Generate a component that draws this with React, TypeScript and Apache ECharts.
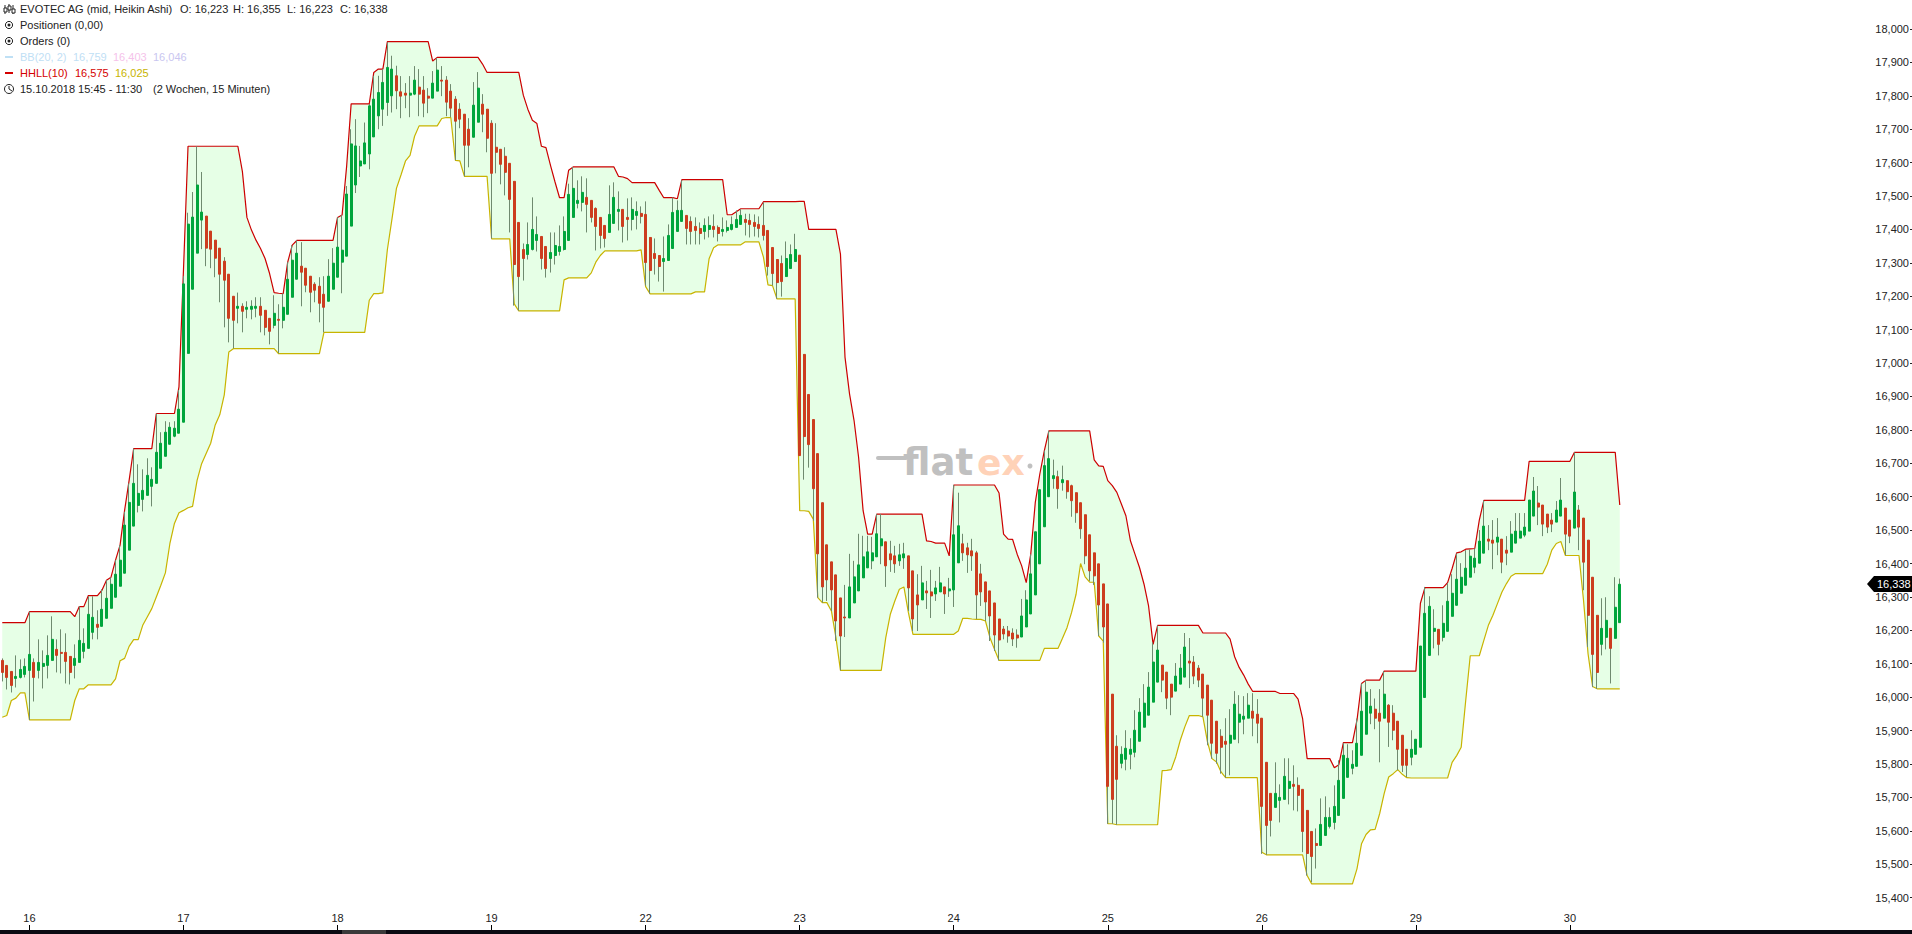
import React, { useEffect, useRef } from "react";
import * as echarts from "echarts";

// Heikin Ashi bars in thousandths of a euro: [open, close, low, high]
const day15 = [[16110,16074,16047,16116],[16095,16059,16023,16095],[16077,16035,16014,16077],[16056,16062,16029,16125],[16059,16083,16056,16113],[16068,16092,16059,16116]];
const day16 = [[16080,16128,15932,16256],[16104,16059,15987,16116],[16080,16104,16056,16173],[16092,16101,16026,16140],[16095,16125,16056,16185],[16110,16173,16110,16242],[16143,16125,16074,16173],[16134,16131,16071,16203],[16134,16107,16041,16191],[16122,16074,16038,16122],[16095,16116,16056,16158],[16104,16170,16104,16272],[16137,16161,16116,16206],[16146,16248,16146,16302],[16194,16239,16173,16302],[16218,16209,16173,16260],[16212,16263,16212,16323],[16236,16296,16236,16350],[16266,16338,16266,16359],[16299,16368,16299,16410],[16332,16410,16332,16455],[16371,16515,16371,16555],[16440,16583,16440,16640],[16512,16640,16512,16744],[16574,16610,16553,16697],[16592,16619,16556,16682],[16604,16664,16604,16715],[16631,16652,16571,16688],[16640,16733,16640,16849],[16685,16760,16685,16793],[16721,16793,16721,16826],[16757,16808,16757,16823],[16781,16805,16778,16826],[16790,16862,16790,16919]];
const day17 = [[16823,17237,16823,17260],[17029,17416,17029,17450],[17221,17437,17221,17512],[17329,17533,17329,17649],[17428,17452,17341,17572],[17440,17344,17290,17440],[17395,17341,17284,17395],[17368,17314,17257,17368],[17344,17266,17182,17344],[17305,17248,17107,17317],[17266,17134,17062,17266],[17200,17128,17044,17200],[17164,17170,17119,17211],[17170,17155,17092,17179],[17161,17167,17134,17185],[17161,17170,17131,17188],[17164,17170,17137,17197],[17170,17143,17092,17197],[17158,17107,17083,17158],[17134,17095,17056,17134],[17113,17149,17104,17203],[17131,17128,17029,17176],[17128,17167,17104,17209],[17146,17251,17146,17302],[17197,17308,17197,17353],[17251,17329,17251,17368],[17290,17272,17170,17362],[17284,17233,17212,17284],[17260,17212,17152,17260],[17236,17218,17182,17242],[17230,17179,17122,17257],[17206,17167,17092,17260],[17185,17260,17185,17311],[17221,17299,17221,17344]];
const day18 = [[17257,17347,17257,17437],[17302,17338,17209,17443],[17320,17506,17320,17530],[17410,17656,17410,17700],[17533,17650,17509,17730],[17590,17605,17557,17650],[17596,17659,17596,17720],[17626,17770,17580,17776],[17677,17790,17677,17860],[17740,17810,17700,17860],[17760,17840,17710,17880],[17780,17885,17740,17960],[17800,17880,17750,17920],[17860,17815,17760,17890],[17812,17799,17733,17859],[17808,17802,17763,17838],[17802,17808,17736,17859],[17805,17847,17802,17889],[17826,17805,17739,17880],[17817,17778,17736,17859],[17799,17793,17748,17823],[17793,17838,17793,17874],[17814,17877,17814,17913],[17847,17844,17799,17889],[17847,17781,17739,17859],[17814,17763,17736,17835],[17790,17724,17607,17799],[17760,17730,17703,17778],[17745,17652,17559,17745],[17700,17652,17586,17733],[17676,17772,17676,17841],[17721,17823,17721,17871],[17775,17745,17691,17805],[17760,17673,17631,17760]];
const day19 = [[17718,17568,17373,17727],[17646,17631,17568,17718],[17640,17595,17535,17640],[17619,17571,17502,17646],[17598,17490,17391,17598],[17544,17295,17172,17544],[17421,17259,17157,17421],[17340,17313,17247,17358],[17325,17355,17310,17421],[17340,17400,17337,17496],[17367,17385,17334,17439],[17379,17313,17280,17379],[17349,17283,17256,17349],[17313,17331,17271,17391],[17322,17352,17295,17391],[17334,17349,17322,17412],[17340,17394,17337,17439],[17367,17505,17367,17537],[17436,17523,17436,17587],[17478,17487,17463,17547],[17481,17511,17454,17559],[17496,17475,17391,17553],[17487,17436,17421,17487],[17463,17409,17337,17466],[17436,17382,17343,17436],[17412,17373,17346,17412],[17391,17445,17391,17532],[17418,17496,17418,17541],[17454,17460,17397,17514],[17460,17409,17361,17460],[17436,17430,17367,17493],[17430,17460,17397,17496],[17442,17454,17400,17484],[17448,17439,17418,17469]];
const day22 = [[17445,17301,17232,17484],[17376,17277,17208,17376],[17328,17313,17265,17373],[17322,17289,17244,17322],[17304,17313,17214,17379],[17307,17382,17307,17415],[17343,17451,17343,17496],[17394,17457,17394,17487],[17424,17457,17424,17547],[17442,17403,17355,17442],[17424,17394,17355,17439],[17409,17397,17355,17436],[17403,17388,17355,17421],[17394,17412,17370,17433],[17400,17412,17376,17439],[17409,17400,17376,17445],[17406,17388,17364,17412],[17394,17400,17379,17436],[17397,17406,17391,17427],[17400,17415,17397,17439],[17406,17430,17406,17457],[17415,17442,17415,17460],[17430,17421,17382,17447],[17427,17415,17376,17447],[17421,17409,17379,17445],[17415,17403,17376,17439],[17412,17382,17367,17481],[17397,17289,17262,17397],[17346,17268,17232,17346],[17310,17241,17193,17310],[17298,17244,17199,17322],[17259,17313,17259,17364],[17283,17325,17283,17355],[17304,17340,17304,17387]];
const day23 = [[17323,16723,16723,17323],[17026,16780,16651,17026],[16906,16756,16687,16906],[16831,16624,16528,16831],[16729,16429,16298,16729],[16582,16330,16283,16582],[16456,16351,16288,16456],[16405,16321,16258,16405],[16366,16228,16168,16366],[16297,16183,16080,16297],[16240,16237,16180,16336],[16237,16330,16237,16429],[16282,16360,16282,16408],[16318,16396,16318,16489],[16357,16420,16357,16483],[16387,16435,16387,16483],[16408,16432,16383,16480],[16420,16489,16420,16548],[16453,16474,16398,16548],[16465,16393,16330,16465],[16429,16411,16375,16468],[16423,16399,16372,16453],[16408,16426,16393,16459],[16417,16429,16384,16462],[16423,16327,16258,16423],[16378,16234,16198,16378],[16306,16276,16198,16368],[16291,16342,16291,16393],[16318,16312,16264,16348],[16315,16303,16237,16381],[16309,16327,16288,16348],[16315,16342,16315,16390],[16330,16309,16249,16330],[16318,16324,16300,16357]];
const day24 = [[16321,16486,16270,16635],[16402,16513,16402,16612],[16459,16432,16408,16489],[16447,16426,16372,16462],[16438,16423,16378,16474],[16432,16306,16234,16438],[16369,16315,16273,16399],[16345,16285,16228,16345],[16318,16243,16168,16318],[16282,16186,16138,16282],[16234,16171,16110,16234],[16204,16189,16173,16213],[16198,16183,16163,16213],[16192,16174,16153,16206],[16186,16177,16148,16203],[16180,16243,16180,16294],[16210,16291,16210,16320],[16249,16369,16249,16428],[16306,16495,16306,16495],[16399,16621,16399,16621],[16510,16693,16510,16738],[16600,16714,16600,16797],[16654,16663,16624,16711],[16660,16624,16564,16678],[16642,16651,16618,16693],[16648,16615,16594,16648],[16633,16588,16540,16636],[16612,16552,16522,16612],[16582,16504,16474,16582],[16546,16423,16398,16546],[16486,16378,16348,16486],[16432,16363,16336,16432],[16399,16276,16183,16399],[16339,16210,16163,16339]];
const day25 = [[16279,15733,15621,16279],[16009,15694,15621,16009],[15853,15754,15618,15886],[15802,15829,15787,15853],[15814,15847,15781,15901],[15829,15844,15784,15877],[15835,15901,15820,15961],[15868,15955,15868,15997],[15910,15982,15910,16039],[15946,16030,15946,16075],[15985,16105,15985,16164],[16045,16141,16045,16215],[16096,16051,16015,16096],[16075,15997,15964,16075],[16039,16000,15946,16039],[16018,16063,16018,16102],[16039,16087,16039,16129],[16060,16150,16060,16192],[16108,16102,16027,16177],[16105,16063,16039,16123],[16087,16051,16030,16096],[16069,15997,15941,16069],[16036,15946,15856,16036],[15991,15862,15816,15991],[15928,15832,15801,15928],[15883,15850,15771,15904],[15868,15859,15759,15937],[15862,15886,15766,15964],[15874,15979,15874,16018],[15925,15949,15862,16006],[15934,15943,15889,16003],[15937,15976,15937,16012],[15958,15937,15883,16012],[15949,15922,15862,15994]];
const day26 = [[15937,15673,15531,15937],[15805,15616,15528,15805],[15712,15631,15583,15712],[15670,15712,15670,15805],[15691,15700,15625,15739],[15694,15763,15694,15817],[15727,15748,15679,15817],[15739,15733,15661,15796],[15736,15706,15658,15760],[15724,15598,15536,15724],[15661,15532,15466,15661],[15598,15523,15446,15598],[15562,15556,15487,15607],[15556,15619,15556,15697],[15586,15640,15586,15703],[15613,15640,15607,15670],[15625,15673,15604,15736],[15646,15751,15646,15811],[15697,15826,15697,15863],[15760,15817,15760,15859],[15787,15799,15769,15841],[15793,15862,15793,15936],[15826,15958,15826,16041],[15889,16015,15889,16051],[15952,15973,15919,16024],[15964,15937,15904,15996],[15952,15928,15805,16024],[15937,16009,15937,16078],[15976,15925,15851,15979],[15952,15901,15871,15976],[15928,15844,15781,15928],[15886,15796,15776,15886],[15844,15796,15761,15844],[15820,15844,15796,15901]];
const day29 = [[15829,15874,15829,15874],[15850,16153,15850,16153],[15999,16251,15999,16330],[16125,16272,16125,16302],[16197,16206,16146,16263],[16203,16158,16125,16203],[16179,16221,16167,16275],[16197,16287,16197,16341],[16242,16311,16242,16368],[16275,16353,16275,16430],[16311,16359,16311,16401],[16335,16386,16335,16440],[16359,16422,16359,16442],[16389,16416,16371,16445],[16401,16467,16401,16500],[16431,16512,16431,16589],[16473,16467,16440,16515],[16470,16461,16383,16530],[16464,16479,16425,16536],[16473,16404,16371,16473],[16440,16431,16395,16482],[16434,16488,16434,16527],[16461,16497,16461,16551],[16476,16497,16476,16551],[16485,16509,16479,16551],[16497,16590,16497,16590],[16542,16617,16542,16659],[16581,16569,16515,16632],[16575,16518,16482,16575],[16548,16509,16491,16548],[16530,16518,16494,16551],[16524,16560,16524,16587],[16542,16590,16542,16656],[16566,16488,16425,16566]];
const day30 = [[16530,16482,16461,16530],[16506,16614,16506,16733],[16560,16509,16440,16575],[16536,16404,16320,16536],[16470,16245,16150,16470],[16359,16128,16030,16359],[16245,16074,16025,16245],[16158,16206,16125,16296],[16179,16230,16143,16299],[16206,16146,16041,16206],[16176,16269,16176,16359],[16223,16338,16223,16355]];

// HHLL(10) upper band
const upper15 = [16223,16223,16223,16223,16223,16223];
const upper16 = [16256,16256,16256,16256,16256,16256,16256,16256,16256,16256,16241,16271,16271,16304,16304,16304,16320,16350,16359,16410,16455,16559,16649,16744,16744,16744,16744,16744,16849,16849,16849,16849,16849,16929];
const upper17 = [17280,17649,17649,17649,17649,17649,17649,17649,17649,17649,17649,17649,17649,17573,17436,17398,17368,17343,17313,17268,17211,17209,17208,17302,17353,17367,17367,17367,17367,17367,17367,17367,17367,17367];
const upper18 = [17436,17443,17588,17776,17776,17776,17776,17776,17870,17880,17880,17962,17962,17962,17962,17962,17962,17962,17962,17962,17962,17904,17915,17915,17915,17915,17915,17915,17915,17915,17915,17915,17895,17870];
const upper19 = [17870,17870,17870,17870,17870,17870,17870,17802,17760,17727,17717,17649,17645,17592,17542,17495,17495,17577,17587,17587,17587,17587,17587,17587,17587,17587,17587,17587,17559,17557,17552,17540,17540,17540];
const upper22 = [17540,17540,17540,17517,17495,17495,17495,17492,17549,17549,17549,17549,17549,17549,17549,17549,17549,17549,17444,17444,17453,17462,17462,17462,17462,17462,17483,17483,17483,17483,17483,17483,17483,17483];
const upper23 = [17484,17484,17400,17400,17400,17400,17400,17400,17400,17326,17018,16908,16828,16718,16558,16488,16488,16548,16548,16548,16548,16548,16548,16548,16548,16548,16548,16548,16468,16466,16461,16461,16461,16423];
const upper24 = [16635,16635,16635,16635,16635,16635,16635,16635,16635,16635,16611,16488,16473,16472,16428,16393,16343,16428,16583,16668,16738,16797,16797,16797,16797,16797,16797,16797,16797,16797,16797,16710,16692,16691];
const upper25 = [16648,16633,16613,16578,16543,16468,16428,16388,16338,16273,16158,16215,16215,16215,16215,16215,16215,16215,16215,16215,16215,16192,16192,16192,16192,16192,16192,16174,16121,16089,16066,16039,16017,16017];
const upper26 = [16017,16017,16017,16017,16011,16011,16011,16011,15994,15936,15816,15816,15816,15816,15816,15816,15789,15798,15864,15864,15864,15931,16041,16051,16051,16051,16051,16078,16078,16078,16078,16078,16078,16078];
const upper29 = [16078,16281,16328,16328,16328,16328,16328,16343,16385,16432,16435,16443,16444,16445,16530,16589,16589,16589,16589,16589,16589,16589,16589,16589,16589,16706,16706,16706,16706,16706,16706,16706,16706,16706];
const upper30 = [16706,16733,16733,16733,16733,16733,16733,16733,16733,16733,16733,16575];

// HHLL(10) lower band
const lower15 = [15940,15945,15990,15997,16013,16013];
const lower16 = [15932,15932,15932,15932,15932,15932,15932,15932,15932,15932,15990,16025,16025,16037,16037,16037,16037,16037,16037,16055,16109,16116,16152,16172,16172,16215,16240,16265,16300,16335,16372,16460,16520,16552];
const lower17 = [16559,16567,16571,16649,16699,16729,16760,16815,16845,16905,17033,17043,17043,17043,17043,17043,17043,17043,17043,17043,17043,17028,17028,17028,17028,17028,17028,17028,17028,17028,17028,17092,17092,17092];
const lower18 = [17092,17092,17092,17092,17092,17092,17092,17188,17208,17208,17210,17340,17430,17523,17563,17605,17622,17679,17710,17710,17710,17710,17710,17732,17735,17735,17607,17605,17559,17559,17559,17559,17559,17559];
const lower19 = [17372,17372,17372,17372,17372,17177,17156,17156,17156,17156,17156,17156,17156,17156,17156,17156,17249,17255,17255,17255,17255,17255,17270,17302,17322,17336,17336,17336,17336,17336,17336,17336,17336,17339];
const lower22 = [17229,17207,17207,17207,17207,17207,17207,17207,17207,17207,17207,17213,17213,17213,17312,17345,17354,17354,17354,17354,17354,17354,17363,17363,17363,17363,17317,17234,17232,17192,17192,17192,17192,17192];
const lower23 = [16558,16558,16556,16533,16298,16283,16283,16258,16178,16080,16080,16080,16080,16080,16080,16080,16080,16080,16080,16178,16248,16288,16323,16330,16253,16188,16188,16188,16188,16188,16188,16188,16188,16188];
const lower24 = [16188,16198,16236,16236,16234,16233,16233,16228,16178,16143,16110,16110,16110,16110,16110,16110,16110,16110,16110,16110,16146,16146,16146,16146,16176,16208,16253,16308,16400,16360,16344,16344,16183,16168];
const lower25 = [15621,15621,15618,15618,15618,15618,15618,15618,15618,15618,15618,15618,15780,15781,15783,15821,15871,15911,15945,15945,15945,15941,15866,15816,15806,15776,15759,15759,15759,15759,15759,15759,15759,15759];
const lower26 = [15536,15528,15528,15528,15528,15528,15528,15528,15528,15528,15466,15441,15441,15441,15441,15441,15441,15441,15441,15441,15441,15486,15561,15589,15603,15604,15651,15711,15761,15771,15783,15769,15759,15758];
const lower29 = [15758,15758,15758,15758,15758,15758,15758,15758,15805,15825,15850,15990,16124,16124,16124,16170,16215,16245,16280,16315,16340,16362,16370,16370,16370,16370,16370,16370,16370,16398,16440,16460,16466,16424];
const lower30 = [16424,16424,16424,16290,16130,16032,16025,16025,16025,16025,16025,16025];

const dayLabels = ["16", "17", "18", "19", "22", "23", "24", "25", "26", "29", "30"];
const headerRow = [["EVOTEC AG (mid, Heikin Ashi)", 20], ["O: 16,223", 180], ["H: 16,355", 233], ["L: 16,223", 287], ["C: 16,338", 340]];
const bbRow = [["BB(20, 2)", 20, "#bfe0f5"], ["16,759", 73, "#bfe0f5"], ["16,403", 113, "#f5c2ea"], ["16,046", 153, "#c9c6f0"]];
const hhllRow = [["HHLL(10)", 20, "#d40000"], ["16,575", 75, "#d40000"], ["16,025", 115, "#c8b400"]];
const lastPrice = "16,338";
const FUTURE_SLOTS = 64;

const FONT = '11px "Liberation Sans", Arial, sans-serif';

function txt(text: string, x: number, y: number, fill = "#222222", font = FONT) {
  return { type: "text", x, y, silent: true, z: 50, style: { text, fill, font, verticalAlign: "middle", textVerticalAlign: "middle" } };
}

function bullseye(y: number) {
  return [
    { type: "circle", silent: true, z: 50, shape: { cx: 9, cy: y, r: 3.6 }, style: { fill: "none", stroke: "#222", lineWidth: 1 } },
    { type: "circle", silent: true, z: 50, shape: { cx: 9, cy: y, r: 1.5 }, style: { fill: "#222" } },
  ];
}

export default function App() {
  const ref = useRef<HTMLDivElement>(null);
  useEffect(() => {
    document.body.style.margin = "0";
    document.body.style.overflow = "hidden";
    const chart = echarts.init(ref.current!, undefined, { renderer: "svg" });
    const bars = [...day15, ...day16, ...day17, ...day18, ...day19, ...day22, ...day23, ...day24, ...day25, ...day26, ...day29, ...day30];
    const upper = [...upper15, ...upper16, ...upper17, ...upper18, ...upper19, ...upper22, ...upper23, ...upper24, ...upper25, ...upper26, ...upper29, ...upper30];
    const lower = [...lower15, ...lower16, ...lower17, ...lower18, ...lower19, ...lower22, ...lower23, ...lower24, ...lower25, ...lower26, ...lower29, ...lower30];
    const band = upper.map((u, i) => u - lower[i]);
    const categories: string[] = [];
    bars.forEach((_, i) => {
      const d = i - day15.length;
      categories.push(d >= 0 && d % 34 === 0 ? dayLabels[d / 34] : "");
    });
    for (let i = 0; i < FUTURE_SLOTS; i++) categories.push("");
    const isDay = (_: number, v: string) => v !== "";
    const UP = "#00a53c";
    const DOWN = "#cc3d1f";
    const WICK = "#6f8a6f";

    chart.setOption({
      animation: false,
      backgroundColor: "#ffffff",
      tooltip: { show: false },
      grid: { left: 0, right: 0, top: 29, bottom: 36.4 },
      xAxis: {
        type: "category",
        data: categories,
        boundaryGap: true,
        offset: 32.4,
        axisLine: { show: false },
        axisTick: { show: true, inside: true, length: 5, alignWithLabel: true, interval: isDay, lineStyle: { color: "#000", width: 1 } },
        axisLabel: { show: true, inside: true, margin: 7, interval: isDay, color: "#222", fontSize: 11, fontFamily: "Liberation Sans" },
        splitLine: { show: false },
      },
      yAxis: {
        type: "value",
        position: "right",
        min: 15400,
        max: 18000,
        interval: 100,
        splitLine: { show: false },
        axisLine: { show: false },
        axisTick: { show: true, inside: true, length: 2, lineStyle: { color: "#222", width: 1 } },
        axisLabel: {
          inside: true,
          margin: 3,
          color: "#222",
          fontSize: 11,
          fontFamily: "Liberation Sans",
          formatter: (v: number) => (v / 1000).toFixed(3).replace(".", ","),
        },
      },
      series: [
        {
          name: "HHLL lower",
          type: "line",
          stack: "hhll",
          data: lower,
          symbol: "none",
          z: 2,
          lineStyle: { color: "#c8b400", width: 1.2 },
          itemStyle: { color: "#c8b400" },
        },
        {
          name: "HHLL upper",
          type: "line",
          stack: "hhll",
          data: band,
          symbol: "none",
          z: 2,
          lineStyle: { color: "#cc0000", width: 1.2 },
          itemStyle: { color: "#cc0000" },
          areaStyle: { color: "#e6ffe6", opacity: 1 },
        },
        {
          name: "Wicks",
          type: "candlestick",
          barWidth: 1,
          z: 3,
          data: bars,
          itemStyle: { color: WICK, color0: WICK, borderColor: WICK, borderColor0: WICK, borderColorDoji: WICK, borderWidth: 1 },
        },
        {
          name: "EVOTEC AG",
          type: "candlestick",
          barWidth: 2.5,
          z: 4,
          data: bars.map(([o, c]) => [o, c, Math.min(o, c), Math.max(o, c)]),
          itemStyle: { color: UP, color0: DOWN, borderColor: UP, borderColor0: DOWN, borderColorDoji: DOWN, borderWidth: 1 },
        },
      ],
      graphic: [
        // chart header
        { type: "line", silent: true, z: 50, shape: { x1: 5, y1: 5, x2: 5, y2: 14 }, style: { stroke: "#222", lineWidth: 1 } },
        { type: "rect", silent: true, z: 50, shape: { x: 4, y: 8, width: 3, height: 4 }, style: { fill: "#fff", stroke: "#222", lineWidth: 1 } },
        { type: "line", silent: true, z: 50, shape: { x1: 9, y1: 4, x2: 9, y2: 13 }, style: { stroke: "#222", lineWidth: 1 } },
        { type: "rect", silent: true, z: 50, shape: { x: 8, y: 6, width: 3, height: 4 }, style: { fill: "#fff", stroke: "#222", lineWidth: 1 } },
        { type: "line", silent: true, z: 50, shape: { x1: 13, y1: 5, x2: 13, y2: 14 }, style: { stroke: "#222", lineWidth: 1 } },
        { type: "rect", silent: true, z: 50, shape: { x: 12, y: 9, width: 3, height: 4 }, style: { fill: "#fff", stroke: "#222", lineWidth: 1 } },
        ...headerRow.map(([t, x]) => txt(t as string, x as number, 9)),
        ...bullseye(25),
        txt("Positionen (0,00)", 20, 25),
        ...bullseye(41),
        txt("Orders (0)", 20, 41),
        { type: "rect", silent: true, z: 50, shape: { x: 5, y: 56, width: 8, height: 2 }, style: { fill: "#bfe0f5" } },
        ...bbRow.map(([t, x, c]) => txt(t as string, x as number, 57, c as string)),
        { type: "rect", silent: true, z: 50, shape: { x: 5, y: 72, width: 8, height: 2 }, style: { fill: "#d40000" } },
        ...hhllRow.map(([t, x, c]) => txt(t as string, x as number, 73, c as string)),
        { type: "circle", silent: true, z: 50, shape: { cx: 9, cy: 89, r: 4.5 }, style: { fill: "none", stroke: "#222", lineWidth: 1 } },
        { type: "polyline", silent: true, z: 50, shape: { points: [[9, 86], [9, 89], [12, 91]] }, style: { fill: "none", stroke: "#222", lineWidth: 1 } },
        txt("15.10.2018 15:45 - 11:30", 20, 89),
        txt("(2 Wochen, 15 Minuten)", 153, 89),
        // watermark
        { type: "rect", silent: true, z: 0, shape: { x: 876, y: 456, width: 32, height: 4, r: 2 }, style: { fill: "#c0c0c0" } },
        txt("flat", 903, 462, "#c0c0c0", 'bold 37px "DejaVu Sans"'),
        txt("ex", 977, 462, "#ffd2b8", 'bold 36px "DejaVu Sans"'),
        { type: "circle", silent: true, z: 0, shape: { cx: 1030, cy: 466, r: 2.5 }, style: { fill: "#c0c0c0" } },
        // last price tag
        { type: "polygon", silent: true, z: 60, shape: { points: [[1867, 584], [1874, 576], [1912, 576], [1912, 592], [1874, 592]] }, style: { fill: "#000" } },
        { ...txt(lastPrice, 1877, 584, "#fff"), z: 61 },
        // bottom scroller
        { type: "rect", silent: true, z: 70, shape: { x: 0, y: 930, width: 1912, height: 4 }, style: { fill: "#0a0a12" } },
        { type: "rect", silent: true, z: 71, shape: { x: 342, y: 930, width: 44, height: 4 }, style: { fill: "#3a3a3a" } },
      ],
    });
    return () => chart.dispose();
  }, []);
  return <div ref={ref} style={{ position: "fixed", left: 0, top: 0, width: 1912, height: 934 }} />;
}
